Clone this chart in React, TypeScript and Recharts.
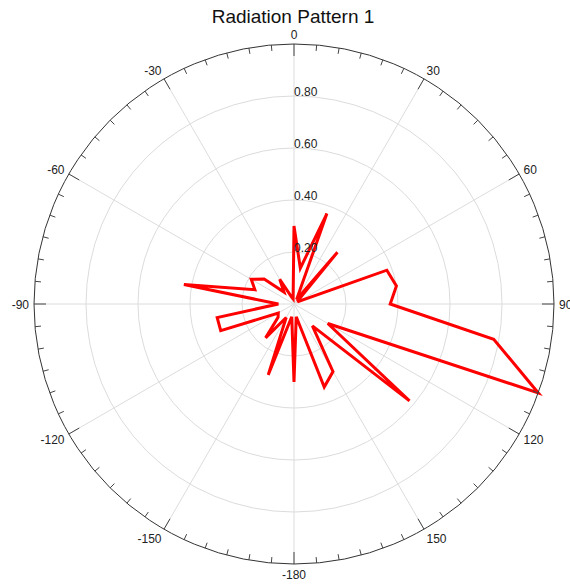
import { RadarChart, Radar, PolarGrid, PolarAngleAxis, PolarRadiusAxis } from "recharts";

// measured angle (deg) and normalised gain
const angles = [
  -180, -170, -160, -150, -140, -130, -120, -110, -100, -90, -80, -70,
  -60, -50, -40, -30, -20, -10, 0, 10, 20, 30, 40, 50,
  60, 70, 80, 90, 100, 110, 120, 130, 140, 150, 160, 170,
];
const gain = [
  0.3, 0.05, 0.29, 0.06, 0.17, 0.08, 0.07, 0.3, 0.3, 0.06, 0.43, 0.16,
  0.19, 0.15, 0.06, 0.11, 0.03, 0.02, 0.3, 0.14, 0.37, 0.02, 0.26, 0.02,
  0.02, 0.38, 0.4, 0.37, 0.78, 1.0, 0.15, 0.58, 0.11, 0.3, 0.34, 0.05,
];

const angleTicks = [
  -180, -175, -170, -165, -160, -155, -150, -145, -140, -135, -130, -125,
  -120, -115, -110, -105, -100, -95, -90, -85, -80, -75, -70, -65,
  -60, -55, -50, -45, -40, -35, -30, -25, -20, -15, -10, -5,
  0, 5, 10, 15, 20, 25, 30, 35, 40, 45, 50, 55,
  60, 65, 70, 75, 80, 85, 90, 95, 100, 105, 110, 115,
  120, 125, 130, 135, 140, 145, 150, 155, 160, 165, 170, 175,
];
const radiusTicks = [0.2, 0.4, 0.6, 0.8];
// spokes every 30 deg
const spokes = [0, 30, 60, 90, 120, 150, 180, 210, 240, 270, 300, 330];

const data = angles.map((a, i) => ({ angle: a, gain: gain[i] }));

const CX = 294;
const CY = 304;
const R = 260;
const FONT = "'Liberation Sans', Arial, sans-serif";

function AngleTick(props: any) {
  const { payload } = props;
  const v = payload.value;
  const a = (payload.coordinate * Math.PI) / 180;
  const cos = Math.cos(a);
  const sin = Math.sin(a);
  const major = v % 30 === 0;
  const len = major ? 12 : 6;
  const x1 = CX + R * cos;
  const y1 = CY - R * sin;
  const x2 = CX + (R - len) * cos;
  const y2 = CY - (R - len) * sin;
  const lx = CX + (R + 5) * cos;
  const ly = CY - (R + 5) * sin - sin * 5 + 1;
  const anchor = cos > 0.1 ? "start" : cos < -0.1 ? "end" : "middle";
  return (
    <g>
      <line x1={x1} y1={y1} x2={x2} y2={y2} stroke="#444" strokeWidth={1} />
      {major && (
        <text
          x={lx}
          y={ly}
          textAnchor={anchor}
          dominantBaseline="central"
          fontSize={12}
          fontFamily={FONT}
          fill="#222"
        >
          {v}
        </text>
      )}
    </g>
  );
}

export default function App() {
  return (
    <div style={{ position: "absolute", left: 0, top: 0, width: 570, height: 584 }}>
      <div
        style={{
          position: "absolute",
          left: 0,
          top: 7,
          width: 586,
          textAlign: "center",
          fontFamily: FONT,
          fontSize: 19,
          lineHeight: "20px",
          color: "#111",
          pointerEvents: "none",
          zIndex: 1,
        }}
      >
        Radiation Pattern 1
      </div>
      <RadarChart
        width={570}
        height={584}
        data={data}
        cx={CX}
        cy={CY}
        outerRadius={R}
        startAngle={270}
        endAngle={-90}
        margin={{ top: 0, right: 0, bottom: 0, left: 0 }}
        style={{ overflow: "visible" }}
      >
        <PolarGrid gridType="circle" polarAngles={spokes} stroke="#dcdcdc" />
        <PolarAngleAxis
          dataKey="angle"
          type="number"
          domain={[-180, 180]}
          ticks={angleTicks}
          tick={AngleTick}
          tickLine={false}
          axisLine={{ stroke: "#333" }}
          axisLineType="circle"
        />
        <PolarRadiusAxis
          angle={90}
          domain={[0, 1]}
          ticks={radiusTicks}
          axisLine={false}
          tickLine={false}
          tick={{ fill: "#222", fontSize: 12, fontFamily: FONT }}
          tickFormatter={(v: number) => v.toFixed(2)}
        />
        <Radar
          dataKey="gain"
          stroke="#ff0000"
          strokeWidth={3}
          fill="none"
          fillOpacity={0}
          dot={false}
          isAnimationActive={false}
        />
      </RadarChart>
    </div>
  );
}
